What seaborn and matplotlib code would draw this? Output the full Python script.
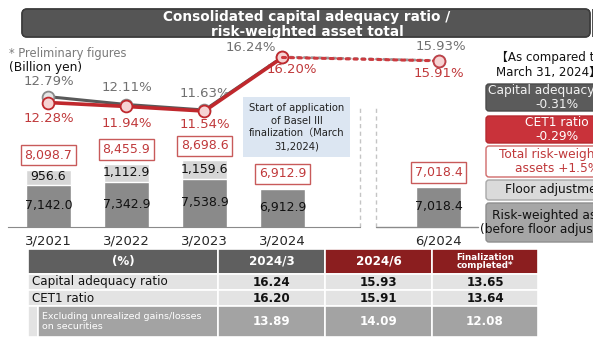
import numpy as np
import pandas as pd
import matplotlib
matplotlib.use("Agg")
import matplotlib.pyplot as plt
from matplotlib.patches import FancyBboxPatch, Rectangle
import seaborn as sns

# ---- data -----------------------------------------------------------------
periods = ["3/2021", "3/2022", "3/2023", "3/2024", "6/2024"]
slots = [0, 1, 2, 3, 5]                      # slot 4 is left empty for the Basel III break
rwa_before_floor = [7142.0, 7342.9, 7538.9, 6912.9, 7018.4]
floor_adjustment = [956.6, 1112.9, 1159.6, 0.0, 0.0]
rwa_total = [8098.7, 8455.9, 8698.6, 6912.9, 7018.4]
capital_adequacy = [12.79, 12.11, 11.63, 16.24, 15.93]
cet1_ratio = [12.28, 11.94, 11.54, 16.20, 15.91]

change_header = "【As compared to\nMarch 31, 2024】"
change_items = ["Capital adequacy ratio\n-0.31%", "CET1 ratio\n-0.29%",
                "Total risk-weighted\nassets +1.5%", "Floor adjustment",
                "Risk-weighted assets\n(before floor adjustment)"]

table_header = ["(%)", "2024/3", "2024/6", "Finalization\ncompleted*"]
table_rows = ["Capital adequacy ratio", "CET1 ratio",
              "Excluding unrealized gains/losses\non securities"]
table_values = [[16.24, 15.93, 13.65],
                [16.20, 15.91, 13.64],
                [13.89, 14.09, 12.08]]

basel_note = "Start of application\nof Basel III\nfinalization（March\n31,2024)"

# ---- style ----------------------------------------------------------------
sns.set_style("white")
plt.rcParams["font.family"] = ["DejaVu Sans", "Noto Sans CJK JP"]
plt.rcParams["font.size"] = 8.5

RED = "#c0282d"
RED_TXT = "#c0393b"
GRAY_LINE = "#595959"
GRAY_TXT = "#707070"
BAR_DARK = "#8a8a8a"
BAR_LIGHT = "#d6d6d6"

W, H = 593, 339
fig = plt.figure(figsize=(W / 100, H / 100), dpi=100)


def px_axes(left, top, right, bottom):
    return [left / W, 1 - bottom / H, (right - left) / W, (bottom - top) / H]


# ---- main chart area --------------------------------------------------------
ax = fig.add_axes(px_axes(8, 40, 480, 227))
df = pd.DataFrame({"slot": slots, "total": rwa_total, "base": rwa_before_floor})
sns.barplot(data=df, x="slot", y="total", native_scale=True, width=0.58,
            color=BAR_LIGHT, saturation=1, errorbar=None, ax=ax)
sns.barplot(data=df, x="slot", y="base", native_scale=True, width=0.58,
            color=BAR_DARK, saturation=1, errorbar=None, ax=ax)

ax.set_xlim(-0.519, 5.532)
ax.set_ylim(4480, 16317)
ax.set_xlabel("")
ax.set_ylabel("")
ax.set_yticks([])
ax.set_xticks(slots)
ax.set_xticklabels(periods, fontsize=9.5)
ax.set_xticks([-0.5, 0.5, 1.5, 2.5, 3.5, 4.5, 5.5], minor=True)
ax.tick_params(axis="x", which="major", length=0, pad=5.5)
ax.tick_params(axis="x", which="minor", length=4, color="#8a8a8a", width=1, direction="out")
for s in ["top", "right", "left"]:
    ax.spines[s].set_visible(False)
ax.spines["bottom"].set_color("#8a8a8a")
ax.spines["bottom"].set_bounds(-0.519, 3.994)
ax.plot([4.2, 5.5], [0, 0], transform=ax.get_xaxis_transform(),
        color="#8a8a8a", lw=1, clip_on=False)

# break markers between 3/2024 and 6/2024
for xb in (3.994, 4.199):
    ax.axvline(xb, ymin=0, ymax=0.64, color="#c4c4c4", lw=1, ls=(0, (3, 2.5)))

ymin_bar = ax.get_ylim()[0]
for sl, base, flo, tot in zip(slots, rwa_before_floor, floor_adjustment, rwa_total):
    ax.text(sl, (ymin_bar + base) / 2, f"{base:,.1f}", ha="center", va="center",
            fontsize=9, color="#111111")
    if flo > 0:
        ax.text(sl, base + flo / 2 + 30, f"{flo:,.1f}", ha="center", va="center",
                fontsize=9, color="#111111")
    ax.annotate(f"{tot:,.1f}", xy=(sl, tot), xytext=(0, 10.5), textcoords="offset points",
                ha="center", va="center", fontsize=9, color=RED_TXT,
                bbox=dict(boxstyle="square,pad=0.3", fc="white", ec="#c85a5a", lw=1))

# ---- ratio lines -------------------------------------------------------------
ax2 = ax.twinx()
ax2.set_ylim(1.457, 17.72)
ax2.set_yticks([])
for s in ax2.spines.values():
    s.set_visible(False)

solid_x = slots[:4]
sns.lineplot(x=solid_x, y=capital_adequacy[:4], ax=ax2, color=GRAY_LINE, lw=2.2,
             marker="o", markersize=8.5, markerfacecolor="#e6e6e6",
             markeredgecolor="#8a8a8a", markeredgewidth=1.3, zorder=3)
sns.lineplot(x=[3, 5], y=capital_adequacy[3:], ax=ax2, color="#9a9a9a", lw=2,
             ls=(0, (1, 1.6)), dash_capstyle="round", zorder=3,
             marker="o", markevery=[1], markersize=8.5, markerfacecolor="#e6e6e6",
             markeredgecolor="#8a8a8a", markeredgewidth=1.3)
sns.lineplot(x=solid_x, y=cet1_ratio[:4], ax=ax2, color=RED, lw=2.6,
             marker="o", markersize=8.5, markerfacecolor="#f6d3d3",
             markeredgecolor=RED, markeredgewidth=1.3, zorder=4)
sns.lineplot(x=[3, 5], y=cet1_ratio[3:], ax=ax2, color="#cc3a3f", lw=2.2,
             ls=(0, (1, 1.6)), dash_capstyle="round", zorder=4,
             marker="o", markevery=[1], markersize=8.5, markerfacecolor="#f6d3d3",
             markeredgecolor="#c04048", markeredgewidth=1.3)
ax2.set_xlim(-0.519, 5.532)

gray_offsets = [(0, 11), (0, 12), (0, 12), (-23, 6.5), (2, 10)]
red_offsets = [(0, -11.5), (0, -12.5), (0, -10), (7, -9), (0, -9)]
for sl, v, off in zip(slots, capital_adequacy, gray_offsets):
    ax2.annotate(f"{v:.2f}%", xy=(sl, v), xytext=off, textcoords="offset points",
                 ha="center", va="center", fontsize=9.5, color=GRAY_TXT)
for sl, v, off in zip(slots, cet1_ratio, red_offsets):
    ax2.annotate(f"{v:.2f}%", xy=(sl, v), xytext=off, textcoords="offset points",
                 ha="center", va="center", fontsize=9.5, color=RED_TXT)

# ---- overlay: title banner, notes, comparison boxes, table -------------------
ov = fig.add_axes([0, 0, 1, 1], zorder=10)
ov.set_xlim(0, W)
ov.set_ylim(H, 0)
ov.axis("off")

banner = FancyBboxPatch((22, 9), 568, 28, boxstyle="round,pad=0,rounding_size=5",
                        fc="#555555", ec="#3c3c3c", lw=1)
ov.add_patch(banner)
grad = np.linspace(0.55, 0.30, 50).reshape(-1, 1)
im = ov.imshow(grad, extent=[22, 590, 37, 9], cmap="gray", vmin=0, vmax=1,
               aspect="auto", interpolation="bicubic")
im.set_clip_path(banner)
ov.add_patch(FancyBboxPatch((22, 9), 568, 28, boxstyle="round,pad=0,rounding_size=5",
                            fc="none", ec="#3c3c3c", lw=1))
ov.add_patch(Rectangle((592, 9), 10, 28, fc="#555555", ec="none"))
ov.text(307, 17, "Consolidated capital adequacy ratio /", ha="center", va="center",
        fontsize=9.8, fontweight="bold", color="white")
ov.text(307, 32, "risk-weighted asset total", ha="center", va="center",
        fontsize=9.8, fontweight="bold", color="white")

ov.text(9, 53, "* Preliminary figures", ha="left", va="center", fontsize=8.3, color="#7a7a7a")
ov.text(9, 68, "(Billion yen)", ha="left", va="center", fontsize=8.8, color="#111111")

# Basel III note
ov.add_patch(Rectangle((243, 97), 107, 60, fc="#dce6f2", ec="none"))
ov.text(296.5, 127, basel_note, ha="center", va="center", fontsize=7.2,
        color="#222222", linespacing=1.35)

# comparison boxes on the right
cx = 557
ov.text(549, 65, change_header, ha="center", va="center", fontsize=8.6,
        color="#111111", linespacing=1.25)
box_specs = [
    (84, 111, "#5b5b5b", "#4a4a4a", "#f2f2f2"),
    (116, 143, "#c9323a", "#b52a30", "#ffffff"),
    (146, 177, "#ffffff", "#d06b6b", RED_TXT),
    (180, 200, "#dadada", "#a8a8a8", "#111111"),
    (203, 242, "#a6a6a6", "#8e8e8e", "#111111"),
]
for (top, bot, fc, ec, tc), label in zip(box_specs, change_items):
    ov.add_patch(FancyBboxPatch((486, top), 160, bot - top,
                                boxstyle="round,pad=0,rounding_size=3",
                                fc=fc, ec=ec, lw=1))
    ov.text(cx, (top + bot) / 2, label, ha="center", va="center", fontsize=8.8,
            color=tc, linespacing=1.15)

# summary table
col_edges = [28, 218, 325, 432, 538]
row_edges = [249, 274, 290, 306, 337]
head_fc = ["#5f5f5f", "#5f5f5f", "#8b1e1f", "#8b1e1f"]
for j, name in enumerate(table_header):
    x0, x1 = col_edges[j], col_edges[j + 1]
    ov.add_patch(Rectangle((x0, row_edges[0]), x1 - x0, row_edges[1] - row_edges[0],
                           fc=head_fc[j], ec="white", lw=1.2))
    small = "\n" in name
    ov.text((x0 + x1) / 2, (row_edges[0] + row_edges[1]) / 2, name, ha="center",
            va="center", fontsize=6.3 if small else 8.6, fontweight="bold",
            color="white", linespacing=1.0)

for i, (rname, vals) in enumerate(zip(table_rows, table_values)):
    y0, y1 = row_edges[i + 1], row_edges[i + 2]
    last = i == len(table_rows) - 1
    cell_fc = "#a3a3a3" if last else "#e3e3e3"
    if last:
        ov.add_patch(Rectangle((col_edges[0], y0), 10, y1 - y0, fc="#e3e3e3",
                               ec="white", lw=1.2))
        ov.add_patch(Rectangle((col_edges[0] + 10, y0), col_edges[1] - col_edges[0] - 10,
                               y1 - y0, fc=cell_fc, ec="white", lw=1.2))
        ov.text(col_edges[0] + 14, (y0 + y1) / 2, rname, ha="left", va="center",
                fontsize=6.8, color="white", linespacing=1.1)
    else:
        ov.add_patch(Rectangle((col_edges[0], y0), col_edges[1] - col_edges[0], y1 - y0,
                               fc=cell_fc, ec="white", lw=1.2))
        ov.text(col_edges[0] + 4, (y0 + y1) / 2, rname, ha="left", va="center",
                fontsize=8.6, color="#111111")
    for j, v in enumerate(vals):
        x0, x1 = col_edges[j + 1], col_edges[j + 2]
        ov.add_patch(Rectangle((x0, y0), x1 - x0, y1 - y0, fc=cell_fc, ec="white", lw=1.2))
        ov.text((x0 + x1) / 2, (y0 + y1) / 2, f"{v:.2f}", ha="center", va="center",
                fontsize=8.6, fontweight="bold",
                color="white" if last else "#111111")

fig.savefig("out.png", dpi=100)
